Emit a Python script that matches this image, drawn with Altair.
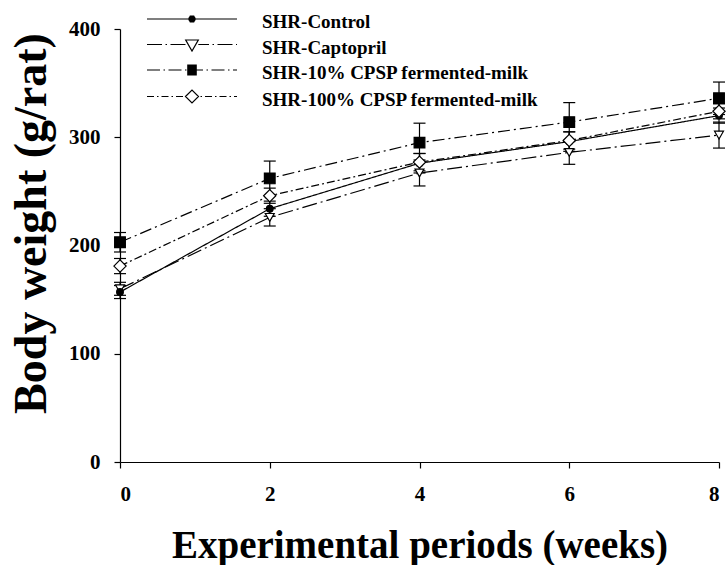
import altair as alt
import pandas as pd

# ---- data ----
weeks = [0, 2, 4, 6, 8]
series_names = ["SHR-Control", "SHR-Captopril", "SHR-10% CPSP fermented-milk", "SHR-100% CPSP fermented-milk"]
control = [157, 234, 276, 296, 320]
control_se = [6, 7, 9, 9, 7]
captopril = [160, 226, 267, 286, 302]
captopril_se = [6, 8, 12, 11, 12]
cpsp10 = [203, 262, 295, 314, 336]
cpsp10_se = [9, 16, 18, 18, 15]
cpsp100 = [181, 246, 277, 297, 324]
cpsp100_se = [7, 7, 8, 8, 7]

values = {
    "SHR-Control": (control, control_se),
    "SHR-Captopril": (captopril, captopril_se),
    "SHR-10% CPSP fermented-milk": (cpsp10, cpsp10_se),
    "SHR-100% CPSP fermented-milk": (cpsp100, cpsp100_se),
}
draw_order = ["SHR-Captopril", "SHR-Control", "SHR-100% CPSP fermented-milk", "SHR-10% CPSP fermented-milk"]
rows = []
for s in draw_order:
    v, e = values[s]
    for w, val, se in zip(weeks, v, e):
        rows.append({"week": w, "series": s, "value": val, "lo": val - se, "hi": val + se})
df = pd.DataFrame(rows)

# ---- styles ----
FONT = "Liberation Serif"
dashes = [[1, 0], [15, 4, 2, 4], [12, 4, 2, 4], [8, 3, 2, 3]]
shapes = ["circle", "triangle-down", "square", "diamond"]
fills = ["black", "white", "black", "white"]
sizes = [45, 150, 100, 160]

# legend glyphs are custom SVG paths in units of 10 px (symbol size 400)
LY = -0.3
MID = 4.0


def line_part(pattern, half):
    start, end = -0.5, 8.5
    parts = []
    x = start
    i = 0
    while x < end:
        ln = pattern[i % len(pattern)]
        a, b = x, min(x + ln, end)
        if i % 2 == 0:
            for (p, q) in [(a, min(b, MID - half)), (max(a, MID + half), b)]:
                if q - p > 0.01:
                    parts.append(f"M{p:.3f},{LY}H{q:.3f}")
        x += ln
        i += 1
    return "".join(parts)


def filled_square(h):
    out = []
    n = int(round(2 * h / 0.08))
    for k in range(n + 1):
        yy = LY - h + k * (2 * h / n)
        out.append(f"M{MID - h:.3f},{yy:.3f}H{MID + h:.3f}")
    return "".join(out)


def filled_circle(r):
    out = []
    n = int(round(2 * r / 0.08))
    for k in range(n + 1):
        dy = -r + k * (2 * r / n)
        w = max(r * r - dy * dy, 0) ** 0.5
        if w > 0.02:
            out.append(f"M{MID - w:.3f},{LY + dy:.3f}H{MID + w:.3f}")
    return "".join(out)


paths = [
    line_part([9.0, 0.0], 0.0) + filled_circle(0.36),
    line_part([1.5, 0.35, 0.15, 0.35], 0.63) + f"M{MID-0.63},{LY-0.45}L{MID+0.63},{LY-0.45}L{MID},{LY+0.65}Z",
    line_part([1.3, 0.35, 0.15, 0.35], 0.0) + filled_square(0.48),
    line_part([0.7, 0.3, 0.15, 0.3], 0.65) + f"M{MID-0.65},{LY}L{MID},{LY-0.65}L{MID+0.65},{LY}L{MID},{LY+0.65}Z",
]

x_enc = alt.X("week:Q", scale=alt.Scale(domain=[0, 8], nice=False),
              axis=alt.Axis(values=[0, 2, 4, 6, 8], format="d", title="Experimental periods (weeks)",
                            titleY=95, titleBaseline="alphabetic", titleFontSize=39,
                            labelPadding=15))
y_enc = alt.Y("value:Q", scale=alt.Scale(domain=[0, 400], nice=False),
              axis=alt.Axis(values=[0, 100, 200, 300, 400], format="d", title="Body weight (g/rat)",
                            titleX=-75, titleY=194, titleBaseline="alphabetic", titleFontSize=46,
                            labelPadding=14))

lines = alt.Chart(df).mark_line(color="black", strokeWidth=1.2).encode(
    x=x_enc, y=y_enc,
    strokeDash=alt.StrokeDash("series:N", scale=alt.Scale(domain=series_names, range=dashes), legend=None),
)

err = alt.Chart(df).mark_rule(color="black", strokeWidth=1.2).encode(
    x="week:Q", y="lo:Q", y2="hi:Q")
cap_lo = alt.Chart(df).mark_rule(color="black", strokeWidth=1.2, xOffset=-6, x2Offset=6).encode(
    x="week:Q", x2="week:Q", y="lo:Q")
cap_hi = alt.Chart(df).mark_rule(color="black", strokeWidth=1.2, xOffset=-6, x2Offset=6).encode(
    x="week:Q", x2="week:Q", y="hi:Q")

points = alt.Chart(df).mark_point(filled=True, opacity=1, stroke="black", strokeWidth=1.2).encode(
    x="week:Q", y="value:Q",
    shape=alt.Shape("series:N", scale=alt.Scale(domain=series_names, range=shapes), legend=None),
    fill=alt.Fill("series:N", scale=alt.Scale(domain=series_names, range=fills), legend=None),
    size=alt.Size("series:N", scale=alt.Scale(domain=series_names, range=sizes), legend=None),
)

legend_layer = alt.Chart(df).transform_filter("false").mark_point(
    filled=False, opacity=1, color="black", strokeWidth=1.2).encode(
    x="week:Q", y="value:Q",
    shape=alt.Shape("series:N", scale=alt.Scale(domain=series_names, range=paths),
                    legend=alt.Legend(title=None, orient="none", legendX=21, legendY=-18,
                                      symbolSize=400, labelOffset=99, labelLimit=500,
                                      rowPadding=4.5, padding=0,
                                      symbolStrokeColor="black", symbolStrokeWidth=1.2)),
)

chart = alt.layer(lines, err, cap_lo, cap_hi, points, legend_layer).resolve_scale(
    shape="independent"
).properties(
    width=599, height=433,
    autosize=alt.AutoSizeParams(type="none"),
    padding={"left": 120, "top": 29, "right": 8, "bottom": 103},
).configure_view(stroke=None).configure_axis(
    grid=False, domainColor="black", tickColor="black", tickSize=6, domainWidth=1.2, tickWidth=1.2,
    labelFont=FONT, labelFontWeight="bold", labelFontSize=21, labelColor="black",
    titleFont=FONT, titleFontWeight="bold", titleColor="black",
).configure_legend(
    labelFont=FONT, labelFontWeight="bold", labelFontSize=19, labelColor="black",
    symbolStrokeColor="black", symbolStrokeWidth=1.2,
)

chart.save("out.html", embed_options={"renderer": "svg", "actions": False})
